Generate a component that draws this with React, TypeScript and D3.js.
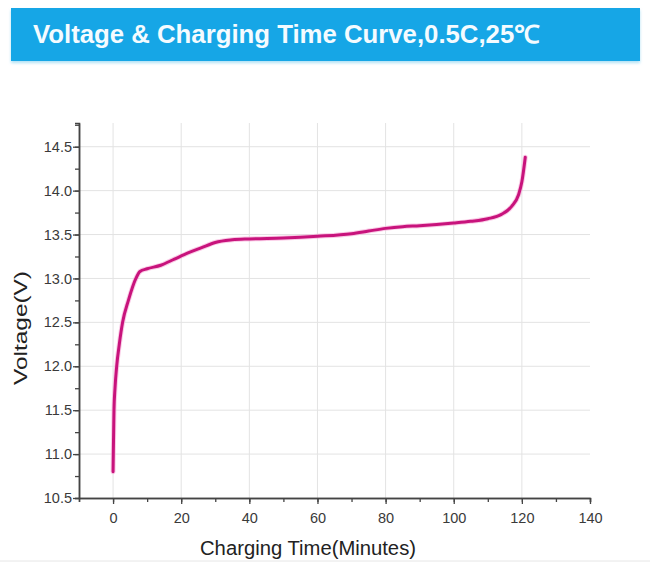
import { useRef, useEffect } from "react";
import * as d3 from "d3";

// Charging curve (minutes, volts)
const TIME_MIN = [0, 0.07, 0.17, 0.27, 0.57, 1.06, 1.83, 2.8, 4.5, 6.7, 7.9, 10, 14, 18, 22, 26, 30, 35, 40, 50, 60, 70, 75, 80, 85, 90, 100, 105, 110, 114, 117, 119, 120, 121];
const VOLTAGE = [10.8, 11.0, 11.25, 11.5, 11.75, 12.0, 12.25, 12.5, 12.75, 13.0, 13.08, 13.11, 13.15, 13.22, 13.29, 13.35, 13.41, 13.44, 13.45, 13.46, 13.48, 13.51, 13.54, 13.57, 13.59, 13.6, 13.63, 13.65, 13.68, 13.73, 13.82, 13.95, 14.1, 14.38];

const X_TICKS = [0, 20, 40, 60, 80, 100, 120, 140];
const Y_TICKS = [10.5, 11.0, 11.5, 12.0, 12.5, 13.0, 13.5, 14.0, 14.5];

const TITLE = "Voltage & Charging Time Curve,0.5C,25℃";
const X_LABEL = "Charging Time(Minutes)";
const Y_LABEL = "Voltage(V)";

const W = 650;
const H = 563;
const FONT = "'Liberation Sans', Arial, sans-serif";

export default function App() {
  const svgRef = useRef<SVGSVGElement>(null);

  useEffect(() => {
    if (!svgRef.current) return;
    const svg = d3.select(svgRef.current);
    svg.selectAll("*").remove();

    const x = d3.scaleLinear().domain([-10, 140]).range([79, 590]);
    const y = d3.scaleLinear().domain([10.5, 14.77]).range([498, 123]);

    // Title banner with a soft blue shadow underneath
    const defs = svg.append("defs");
    const f = defs.append("filter").attr("id", "sh").attr("x", "-5%").attr("y", "-20%").attr("width", "110%").attr("height", "150%");
    f.append("feDropShadow").attr("dx", 0).attr("dy", 2).attr("stdDeviation", 1.5).attr("flood-color", "#8fd3f0").attr("flood-opacity", 0.7);

    svg.append("rect")
      .attr("x", 11).attr("y", 8).attr("width", 629).attr("height", 53)
      .attr("fill", "#14a6e6").attr("filter", "url(#sh)");
    svg.append("text")
      .attr("x", 33).attr("y", 43)
      .attr("fill", "#f4fbff")
      .attr("font-family", FONT)
      .attr("font-weight", "bold")
      .attr("font-size", 25)
      .attr("textLength", 507)
      .attr("lengthAdjust", "spacingAndGlyphs")
      .text(TITLE);

    const g = svg.append("g");

    // Grid
    g.selectAll("line.vgrid")
      .data(X_TICKS.filter((t) => t < 140))
      .join("line")
      .attr("class", "vgrid")
      .attr("x1", (d) => x(d)).attr("x2", (d) => x(d))
      .attr("y1", y(10.5)).attr("y2", 123)
      .attr("stroke", "#e3e3e3").attr("stroke-width", 1);
    g.selectAll("line.hgrid")
      .data(Y_TICKS.filter((t) => t > 10.5))
      .join("line")
      .attr("class", "hgrid")
      .attr("x1", x(-10)).attr("x2", x(140))
      .attr("y1", (d) => y(d)).attr("y2", (d) => y(d))
      .attr("stroke", "#e3e3e3").attr("stroke-width", 1);

    // Curve — pink halo under the magenta line
    const pts: [number, number][] = TIME_MIN.map((t, i) => [t, VOLTAGE[i]]);
    const line = d3.line<[number, number]>()
      .x((d) => x(d[0]))
      .y((d) => y(d[1]))
      .curve(d3.curveMonotoneX);
    g.append("path").datum(pts)
      .attr("d", line).attr("fill", "none")
      .attr("stroke", "#f7a8d6").attr("stroke-width", 5).attr("stroke-linecap", "round").attr("opacity", 0.6);
    g.append("path").datum(pts)
      .attr("d", line).attr("fill", "none")
      .attr("stroke", "#c8137c").attr("stroke-width", 3).attr("stroke-linecap", "round");

    // X axis: minor ticks every 10, labelled every 20
    const xAxis = g.append("g").attr("transform", `translate(0,${y(10.5)})`);
    xAxis.call(
      d3.axisBottom(x).tickValues(d3.range(-10, 141, 10)).tickSize(4).tickFormat(() => "")
    );
    xAxis.append("g").call(
      d3.axisBottom(x).tickValues(X_TICKS).tickSize(6).tickSizeOuter(0).tickFormat((d) => String(d))
    );
    // Y axis: minor ticks every 0.25
    const yAxis = g.append("g").attr("transform", `translate(${x(-10)},0)`);
    yAxis.call(
      d3.axisLeft(y).tickValues(d3.range(10.5, 14.76, 0.25)).tickSize(4).tickFormat(() => "")
    );
    yAxis.append("g").call(
      d3.axisLeft(y).tickValues(Y_TICKS).tickSize(6).tickPadding(1).tickSizeOuter(0).tickFormat(d3.format(".1f"))
    );

    svg.selectAll(".domain").attr("stroke", "#444").attr("stroke-width", 1.5);
    svg.selectAll(".tick line").attr("stroke", "#444").attr("stroke-width", 1.3);
    svg.selectAll(".tick text")
      .attr("fill", "#3a3a3a")
      .attr("font-family", FONT)
      .attr("font-size", 14.5);
    xAxis.selectAll(".tick text").attr("dy", "1.1em");

    // Axis titles
    svg.append("text")
      .attr("x", 308).attr("y", 555)
      .attr("text-anchor", "middle")
      .attr("fill", "#222").attr("font-family", FONT).attr("font-size", 19.5)
      .attr("textLength", 216)
      .attr("lengthAdjust", "spacingAndGlyphs")
      .text(X_LABEL);
    svg.append("text")
      .attr("transform", `translate(27,328) rotate(-90)`)
      .attr("text-anchor", "middle")
      .attr("fill", "#222").attr("font-family", FONT).attr("font-size", 19)
      .attr("textLength", 114)
      .attr("lengthAdjust", "spacingAndGlyphs")
      .text(Y_LABEL);

    svg.append("line")
      .attr("x1", 0).attr("x2", W).attr("y1", 561).attr("y2", 561)
      .attr("stroke", "#e6e6e6");
  }, []);

  return (
    <svg
      ref={svgRef}
      width={W}
      height={H}
      style={{ position: "absolute", left: 0, top: 0, background: "#fff", display: "block" }}
    />
  );
}
